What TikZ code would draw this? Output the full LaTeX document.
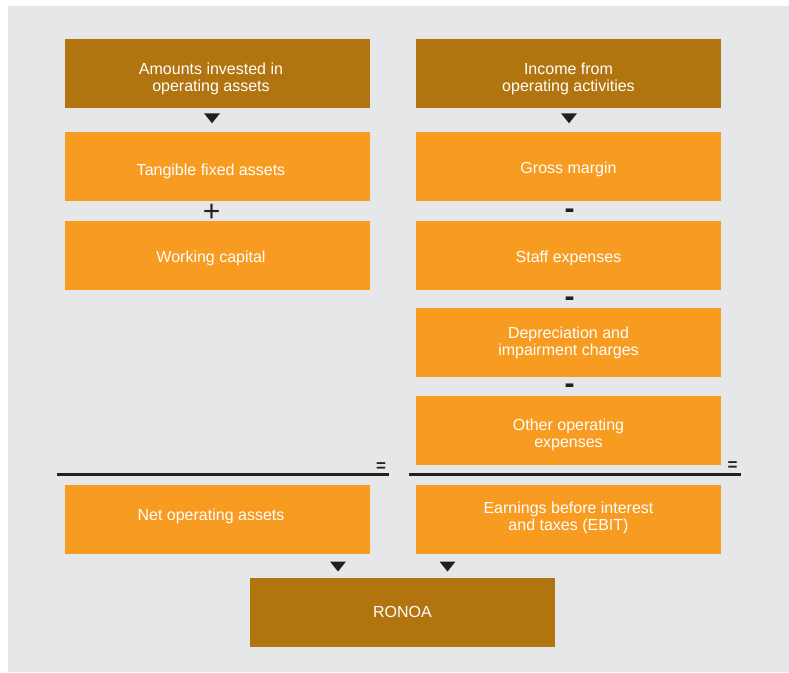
\documentclass[tikz,border=0pt]{standalone}
\usepackage{fontspec}
\setmainfont{Liberation Sans}
\usetikzlibrary{positioning}
\definecolor{bgGray}{HTML}{E6E7E8}
\definecolor{darkGold}{HTML}{B1740F}
\definecolor{brightOrange}{HTML}{F89B21}
\definecolor{signBlack}{HTML}{231F20}

\begin{document}
\begin{tikzpicture}[
    % one unit = one pixel of the reference, y runs downwards
    x=1pt, y=-1pt,
    box/.style={rectangle, inner sep=0pt, outer sep=0pt, minimum width=305pt, minimum height=69pt},
    headbox/.style={box, fill=darkGold},
    itembox/.style={box, fill=brightOrange},
    boxtext/.style={text=white, align=center, inner sep=0pt, font=\fontsize{16}{17}\selectfont},
    lefttext/.style 2 args={label={[boxtext, xshift=-6.5pt, yshift=#2]center:#1}},
    righttext/.style 2 args={label={[boxtext, yshift=#2]center:#1}},
    plussign/.style={text=signBlack, inner sep=0pt, font=\fontsize{30}{30}\selectfont},
    minussign/.style={text=signBlack, inner sep=0pt, font=\bfseries\fontsize{30}{30}\selectfont},
    eqsign/.style={text=signBlack, inner sep=0pt, font=\bfseries\fontsize{17}{17}\selectfont},
    marker/.style={fill=signBlack},
    sumrule/.style={draw=signBlack, line width=2.7pt}
]

    % Background and margins
    \useasboundingbox (0,0) rectangle (789,672);
    \fill[bgGray] (8,6) rectangle (789,672);

    % Right column
    \node[headbox, righttext={Income from\\operating activities}{-5.8pt}] (income) at (568.5,73.5) {};
    \node[itembox, below=24pt of income, righttext={Gross margin}{-3.2pt}] (gross) {};
    \node[itembox, below=20pt of gross, righttext={Staff expenses}{-3pt}] (staff) {};
    \node[itembox, below=18pt of staff, righttext={Depreciation and\\impairment charges}{-0.8pt}] (depreciation) {};
    \node[itembox, below=19pt of depreciation, righttext={Other operating\\expenses}{-4.5pt}] (other) {};
    \node[itembox, below=20pt of other, righttext={Earnings before interest\\and taxes (EBIT)}{1.2pt}] (ebit) {};

    % Left column
    \node[headbox, left=46pt of income, lefttext={Amounts invested in\\operating assets}{-5.8pt}] (amounts) {};
    \node[itembox, left=46pt of gross, lefttext={Tangible fixed assets}{-5.3pt}] (tangible) {};
    \node[itembox, below=20pt of tangible, lefttext={Working capital}{-3pt}] (working) {};
    \node[itembox, left=46pt of ebit, lefttext={Net operating assets}{2.7pt}] (netassets) {};

    % Result
    \node[headbox, righttext={RONOA}{0pt}] (ronoa) at (402.5,612) {};

    % Signs between the boxes
    \node[plussign] (plus) at (211.7,213) {+};
    \node[minussign] (minusA) at (569.5,213.8) {-};
    \node[minussign] (minusB) at (569.5,301.5) {-};
    \node[minussign] (minusC) at (569.5,389.2) {-};
    \node[eqsign] (eqLeft) at (381,467) {=};
    \node[eqsign] (eqRight) at (732.5,466) {=};

    % Sum rules
    \coordinate (ruleLeftA) at (57,474.3);
    \coordinate (ruleLeftB) at (389,474.3);
    \coordinate (ruleRightA) at (409,474.3);
    \coordinate (ruleRightB) at (741,474.3);
    \draw[sumrule] (ruleLeftA) -- (ruleLeftB);
    \draw[sumrule] (ruleRightA) -- (ruleRightB);

    % Downward markers
    \coordinate (amountsMark) at (212,118.3);
    \coordinate (incomeMark) at (569,118.3);
    \coordinate (netMark) at (338,566.5);
    \coordinate (ebitMark) at (447.5,566.5);
    \foreach \m in {amountsMark, incomeMark, netMark, ebitMark}
        \fill[marker] (\m) ++(-8,-5) -- ++(16,0) -- ++(-8,10) -- cycle;

\end{tikzpicture}
\end{document}
